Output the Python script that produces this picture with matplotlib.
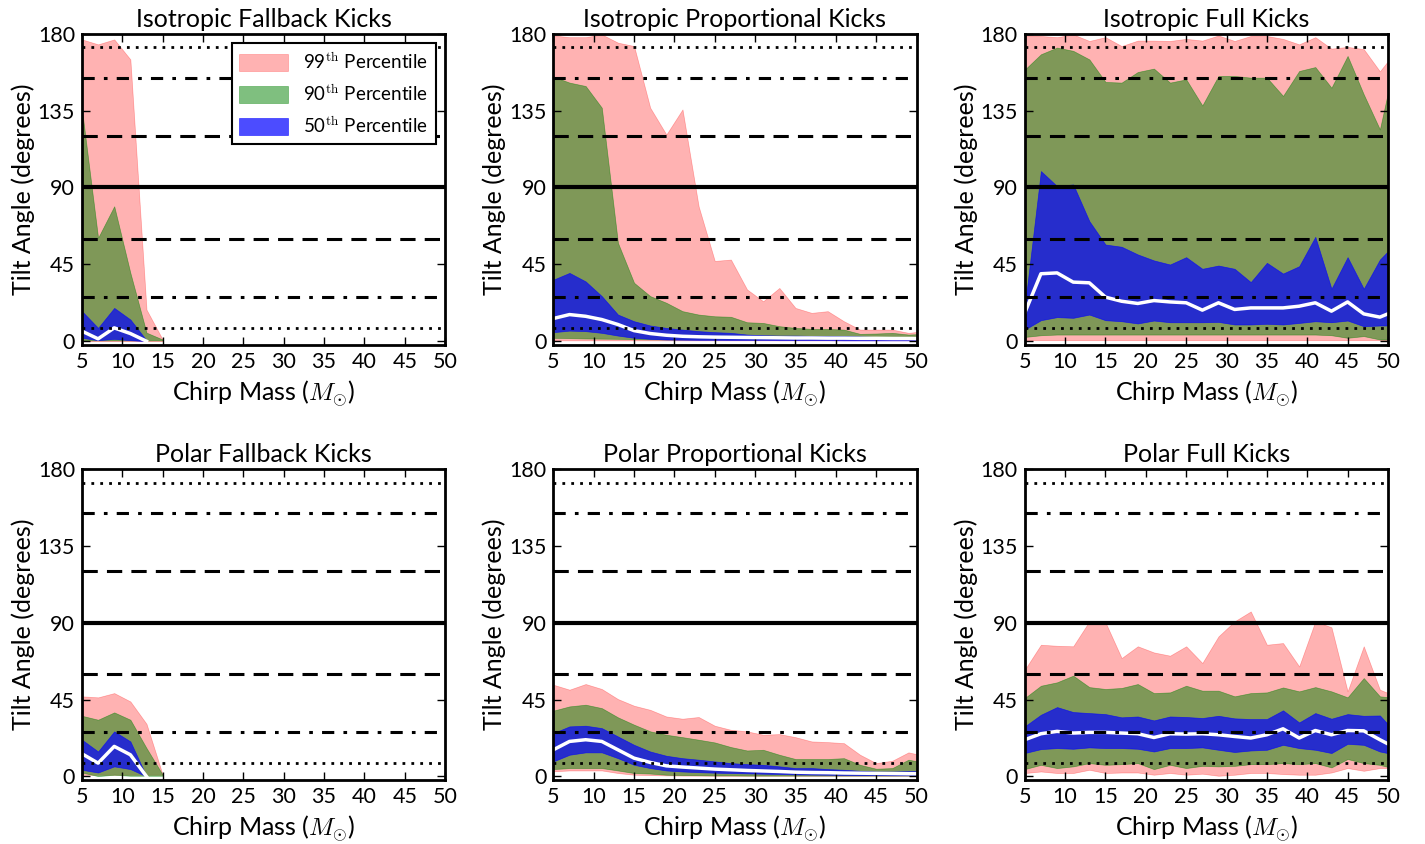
import matplotlib
matplotlib.use("Agg")
import matplotlib.pyplot as plt
import numpy as np

nan = np.nan

plt.rcParams["font.family"] = ["Lato", "DejaVu Sans"]
plt.rcParams["mathtext.fontset"] = "cm"

chirp_mass = [5, 7, 9, 11, 13, 15, 17, 19, 21, 23, 25, 27,
              29, 31, 33, 35, 37, 39, 41, 43, 45, 47, 49, 51]
pad = [nan] * 18

# Isotropic fallback kicks
iso_fb_99_lo = [0, 0, 0, 0, 0, 0] + pad
iso_fb_99_hi = [176.7, 173.8, 176.7, 165, 18.5, 1] + pad
iso_fb_90_lo = [0.5, 0.5, 0.5, 0.5, 0.5, 0.5] + pad
iso_fb_90_hi = [135.7, 60.5, 79, 40, 5, 1] + pad
iso_fb_50_lo = [2, 0.6, 1.4, 0.6, 0, nan] + pad
iso_fb_50_hi = [17.6, 7.8, 19.5, 12.7, 0.5, nan] + pad
iso_fb_med = [5.9, 1.4, 7.8, 4.5, 0, nan] + pad

# Isotropic proportional kicks
iso_pr_99_lo = [0.5] * 24
iso_pr_99_hi = [179, 178, 178, 179.6, 174.8, 172.8, 136.7, 121, 135.7, 79, 47, 47.8,
                30.3, 23.4, 31.2, 19.5, 16.6, 17.6, 11.7, 6.8, 6.8, 6.8, 4.9, 5.9]
iso_pr_90_lo = [2, 1.8, 1.6, 1.5, 1.4, 1.2, 1.1, 1, 1, 1, 1, 1,
                1, 1, 1, 1, 1, 1, 1, 1, 1, 1, 1, 1]
iso_pr_90_hi = [154.9, 151.4, 149.4, 136.7, 57.6, 34.2, 26.4, 22.5, 17.6, 15.6, 14.6, 14.3,
                11.1, 10.7, 8.8, 7.8, 7.2, 7.2, 6.8, 4.3, 4.5, 4.9, 3.9, 4.3]
iso_pr_50_lo = [5.3, 6.2, 5.9, 4.9, 3.3, 2, 1.4, 1, 0.9, 0.8, 0.8, 0.7,
                0.7, 0.7, 0.6, 0.6, 0.6, 0.6, 0.5, 0.5, 0.5, 0.5, 0.5, 0.5]
iso_pr_50_hi = [36, 40, 35, 26.4, 15.6, 11.7, 9.2, 7.8, 6.8, 5.9, 5.3, 4.9,
                3.9, 3.5, 3.3, 3.3, 3.1, 3, 3, 2.8, 2.5, 2.5, 2.3, 2.3]
iso_pr_med = [13.3, 15.6, 14.6, 12.7, 9.8, 6.2, 4.5, 3.5, 2.9, 2.6, 2.4, 2.3,
              2.2, 2.1, 2, 1.9, 1.9, 1.8, 1.8, 1.7, 1.7, 1.6, 1.6, 1.5]

# Isotropic full kicks
iso_fu_99_lo = [0.6] * 24
iso_fu_99_hi = [179, 178.7, 178, 179.6, 175.8, 178, 172.8, 176, 176, 175.8, 177, 176,
                179, 175.8, 178.7, 178.7, 177, 173.8, 178, 171.3, 172.3, 171, 158, 170]
iso_fu_90_lo = [2.5, 3.5, 3.9, 3.9, 3.9, 3.9, 3.9, 3.9, 3.9, 3.9, 3.9, 3.9,
                3.9, 3.9, 3.9, 3.9, 3.9, 3.9, 3.9, 3.5, 2, 3, 1, 1]
iso_fu_90_hi = [159, 168, 171.9, 170, 165, 151.8, 151.4, 157.6, 159.6, 151.4, 153.3, 138,
                155.3, 155.3, 154.3, 154.3, 143.6, 158.2, 160.5, 148.4, 167, 144.5, 124, 167]
iso_fu_50_lo = [6.8, 12.3, 14.1, 13.7, 15.6, 12.3, 11.7, 10.4, 12.1, 11.1, 11.1, 11.1,
                11.3, 9.8, 9.8, 10.2, 9.8, 10.7, 11.7, 11.1, 12.1, 8.8, 9.2, 9.2]
iso_fu_50_hi = [20, 99.6, 90.8, 91.8, 70.3, 56.6, 55.3, 50.8, 47.3, 44.9, 49.2, 42.4,
                44.3, 42.4, 34.6, 45.9, 39.6, 43.9, 61.1, 30.7, 49.2, 30.7, 47.8, 57.6]
iso_fu_med = [16.6, 39.5, 40, 34.6, 34.2, 25.8, 23.4, 22.1, 23.8, 23, 22.5, 18.2,
              22.5, 18.6, 19.5, 19.5, 19.5, 20.5, 22.5, 17.6, 23, 16, 14.1, 18]

# Polar fallback kicks
pol_fb_99_lo = [1, 1, 1, 1, 1, 1] + pad
pol_fb_99_hi = [46.9, 46.3, 48.8, 43.9, 30.8, 1] + pad
pol_fb_90_lo = [2.3, 0.2, 1, 0.4, 0.4, 0.4] + pad
pol_fb_90_hi = [35.5, 33.2, 37.5, 33.2, 16.6, 1] + pad
pol_fb_50_lo = [3.9, 2.3, 5.9, 4.3, 0, nan] + pad
pol_fb_50_hi = [21.5, 14.6, 26.4, 20.5, 0, nan] + pad
pol_fb_med = [13.3, 7.8, 17.6, 12.7, 0, nan] + pad

# Polar proportional kicks
pol_pr_99_lo = [3, 3.5, 3.5, 3.5, 2, 1, 0.8, 0.6, 0.5, 0.5, 0.4, 0.4,
                0.4, 0.4, 0.4, 0.4, 0.4, 0.4, 0.4, 0.4, 0.4, 0.4, 0.4, 0.4]
pol_pr_99_hi = [53.7, 50.8, 54.1, 51.2, 45.3, 41.4, 39, 35.1, 33.8, 34.8, 29.7, 27.3,
                26.4, 24.4, 24.8, 23, 20.5, 20.1, 19.5, 12.7, 7.8, 9.2, 14.1, 12]
pol_pr_90_lo = [4.3, 4.9, 4.9, 4.9, 3.5, 2, 1.7, 1, 0.8, 0.7, 0.6, 0.6,
                0.5, 0.5, 0.5, 0.5, 0.5, 0.5, 0.5, 0.5, 0.5, 0.5, 0.5, 0.5]
pol_pr_90_hi = [38.5, 41, 42, 40, 34.6, 30.3, 26.4, 24.4, 23, 21.5, 19.9, 17.2,
                15.2, 15.6, 12.7, 10.2, 10.2, 10.2, 10.7, 6.8, 4.5, 4.9, 9.8, 8]
pol_pr_50_lo = [8.8, 12.7, 14.1, 14.1, 10.7, 6.8, 4.9, 3.5, 2.9, 2.5, 2.2, 2,
                1.8, 1.6, 1.4, 1.2, 1.1, 1, 0.9, 0.8, 0.8, 0.7, 0.7, 0.7]
pol_pr_50_hi = [25.4, 29.3, 29.7, 28.3, 23.4, 18.5, 14.6, 12.1, 10.7, 9.8, 8.8, 7.8,
                7.2, 6.8, 5.9, 4.9, 4.9, 4.3, 3.9, 3.3, 2.9, 2.9, 3.1, 3.1]
pol_pr_med = [15.6, 20.5, 21.5, 20.5, 15.6, 10.7, 8.2, 6.2, 5.5, 4.9, 4.3, 3.9,
              3.5, 3.2, 2.9, 2.5, 2.3, 2.2, 2, 1.9, 1.8, 1.7, 1.6, 1.6]

# Polar full kicks
pol_fu_99_lo = [2, 2.9, 2, 2, 3.9, 2, 2.3, 2.3, 1, 2, 1, 1.6,
                0.4, 1, 2, 2, 1.4, 1, 1, 2.3, 4.9, 3.3, 4.9, 4.9]
pol_fu_99_hi = [62.5, 77.1, 76.5, 76.2, 90.8, 90.2, 69.3, 76.2, 72.6, 70.7, 76.2, 66.4,
                82, 90.8, 96.6, 77.1, 78.1, 64.4, 90.8, 87.3, 49.8, 76.2, 50.8, 46.9]
pol_fu_90_lo = [4.3, 6.8, 4.9, 5.9, 7.8, 6.8, 7.2, 7.8, 4.3, 6.8, 4.9, 6.2,
                5.9, 6.2, 7.2, 7.2, 7.8, 7.2, 7.8, 5.3, 10.2, 7.8, 6.8, 4.3]
pol_fu_90_hi = [45.9, 53.1, 55.1, 59, 52.3, 51.2, 51.8, 54.1, 48.8, 49.2, 53.1, 50.2,
                50.2, 46.9, 48.8, 49.2, 52.1, 49.8, 52.3, 49.8, 46.3, 57.6, 46.9, 45.9]
pol_fu_50_lo = [13.7, 16, 16.6, 16.2, 17, 16.6, 16.6, 16.2, 14.6, 16.6, 16.6, 17,
                15.6, 14.3, 15.2, 15.6, 18.5, 16.6, 15.6, 13.7, 19.1, 18.5, 14.6, 12.7]
pol_fu_50_hi = [29.3, 36.1, 40.6, 37.7, 37.1, 36.5, 34.6, 35.1, 32.8, 35.1, 34.8, 34.2,
                35.5, 34, 33.6, 33.6, 38.7, 31.6, 37.1, 33.8, 36.5, 35.5, 35.7, 25.4]
pol_fu_med = [21.5, 25, 26.4, 25.4, 25.8, 25.8, 25.4, 25, 22.8, 25, 24.8, 25,
              24.4, 23.4, 22.5, 24.4, 27.9, 22.5, 26.9, 24.4, 26.9, 26.7, 21.5, 16.6]

titles = ["Isotropic Fallback Kicks", "Isotropic Proportional Kicks", "Isotropic Full Kicks",
          "Polar Fallback Kicks", "Polar Proportional Kicks", "Polar Full Kicks"]
panels = [
    (iso_fb_99_lo, iso_fb_99_hi, iso_fb_90_lo, iso_fb_90_hi, iso_fb_50_lo, iso_fb_50_hi, iso_fb_med),
    (iso_pr_99_lo, iso_pr_99_hi, iso_pr_90_lo, iso_pr_90_hi, iso_pr_50_lo, iso_pr_50_hi, iso_pr_med),
    (iso_fu_99_lo, iso_fu_99_hi, iso_fu_90_lo, iso_fu_90_hi, iso_fu_50_lo, iso_fu_50_hi, iso_fu_med),
    (pol_fb_99_lo, pol_fb_99_hi, pol_fb_90_lo, pol_fb_90_hi, pol_fb_50_lo, pol_fb_50_hi, pol_fb_med),
    (pol_pr_99_lo, pol_pr_99_hi, pol_pr_90_lo, pol_pr_90_hi, pol_pr_50_lo, pol_pr_50_hi, pol_pr_med),
    (pol_fu_99_lo, pol_fu_99_hi, pol_fu_90_lo, pol_fu_90_hi, pol_fu_50_lo, pol_fu_50_hi, pol_fu_med),
]

# reference angles: (value, linestyle, linewidth)
ref_lines = [(90, "-", 3), (60, (0, (5, 3)), 2.2), (120, (0, (5, 3)), 2.2),
             (26, (0, (4, 3, 1.2, 3)), 2.2), (154, (0, (4, 3, 1.2, 3)), 2.2),
             (8, (0, (1, 2.2)), 2), (172, (0, (1, 2.2)), 2)]

fig, axes = plt.subplots(2, 3, figsize=(14.25, 8.44), dpi=100)
fig.subplots_adjust(left=0.0575, right=0.974, bottom=0.076, top=0.960,
                    wspace=0.298, hspace=0.40)

x = np.array(chirp_mass, dtype=float)
for ax, title, data in zip(axes.flat, titles, panels):
    lo99, hi99, lo90, hi90, lo50, hi50, med = (np.array(d, dtype=float) for d in data)
    ax.fill_between(x, lo99, hi99, color="red", alpha=0.3, lw=0.5,
                    label="99$^{\\rm th}$ Percentile")
    ax.fill_between(x, lo90, hi90, color="green", alpha=0.5, lw=0.5,
                    label="90$^{\\rm th}$ Percentile")
    ax.fill_between(x, lo50, hi50, color="blue", alpha=0.7, lw=0.5,
                    label="50$^{\\rm th}$ Percentile")
    ax.plot(x, med, color="white", lw=2.5)
    for val, ls, lw in ref_lines:
        ax.axhline(val, color="black", ls=ls, lw=lw)

    ax.set_xlim(5, 50)
    ax.set_ylim(-2, 180)
    ax.set_xticks(range(5, 51, 5))
    ax.set_yticks([0, 45, 90, 135, 180])
    ax.tick_params(direction="in", top=True, right=True, length=6, width=1,
                   labelsize=15.5, pad=5)
    for sp in ax.spines.values():
        sp.set_linewidth(2)
    ax.set_title(title, fontsize=18, pad=5)
    ax.set_xlabel("Chirp Mass ($M_{\\odot}$)", fontsize=18, labelpad=5)
    ax.set_ylabel("Tilt Angle (degrees)", fontsize=18, labelpad=2)

leg = axes[0, 0].legend(loc="upper right", fontsize=13.5, handlelength=2.6,
                        handleheight=1.0, labelspacing=0.6, borderaxespad=0.5,
                        fancybox=False, framealpha=1)
leg.get_frame().set_edgecolor("black")
leg.get_frame().set_linewidth(1.5)

fig.savefig("out.png", dpi=100)
